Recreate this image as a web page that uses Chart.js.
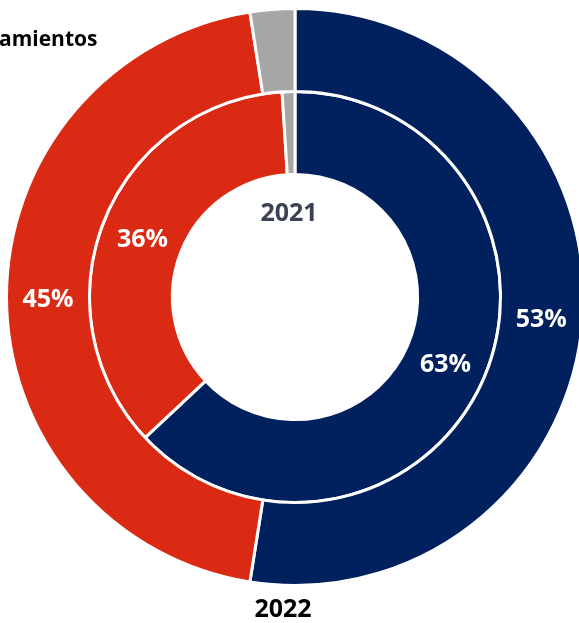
<!DOCTYPE html>
<html>
<head>
<meta charset="utf-8">
<script src="https://cdn.jsdelivr.net/npm/chart.js@4/dist/chart.umd.min.js"></script>
<style>
  html, body { margin: 0; padding: 0; background: #fff; overflow: hidden; }
  #wrap { position: absolute; left: 0; top: 0; width: 600px; height: 623px; }
</style>
</head>
<body>
<div id="wrap"><canvas id="chart" width="600" height="623"></canvas></div>
<script>
// Share of each group per year (percent)
const groups = ['Grupo A', 'Grupo B', 'Otros'];
const values2022 = [52.5, 45, 2.5];
const values2021 = [63, 36, 1];
const ringLabels = ['2022', '2021'];
const colors = ['#00215e', '#da2a14', '#a6a6a6'];

// Percent labels on the two big slices of each ring, plus the year captions
const textPlugin = {
    id: 'ringText',
    afterDraw(chart) {
        const ctx = chart.ctx;
        ctx.save();
        ctx.textAlign = 'center';
        ctx.textBaseline = 'middle';
        ctx.font = 'bold 25px "Open Sans", sans-serif';
        ctx.fillStyle = '#ffffff';
        chart.data.datasets.forEach(function(ds, di) {
            const meta = chart.getDatasetMeta(di);
            meta.data.forEach(function(arc, i) {
                if (ds.data[i] < 5) return;
                const p = arc.getCenterPoint();
                ctx.fillText(Math.round(ds.data[i]) + '%', p.x, p.y + 3);
            });
        });

        const inner = chart.getDatasetMeta(1).data[0];
        ctx.fillStyle = '#3a4254';
        ctx.fillText(ringLabels[1], inner.x - 6, 214);

        ctx.fillStyle = '#000000';
        ctx.fillText(ringLabels[0], inner.x - 12, 610);

        ctx.textAlign = 'left';
        ctx.font = 'bold 21px "Open Sans", sans-serif';
        ctx.fillText('amientos', -1, 40);
        ctx.restore();
    }
};

new Chart(document.getElementById('chart'), {
    type: 'doughnut',
    data: {
        labels: groups,
        datasets: [
            {
                label: ringLabels[0],
                data: values2022,
                backgroundColor: colors,
                borderColor: '#ffffff',
                borderWidth: 3
            },
            {
                label: ringLabels[1],
                data: values2021,
                backgroundColor: colors,
                borderColor: '#ffffff',
                borderWidth: 3
            }
        ]
    },
    options: {
        responsive: false,
        animation: false,
        cutout: '42.5%',
        layout: { padding: { left: 5, right: 15, top: 7, bottom: 36 } },
        plugins: {
            legend: { display: false },
            tooltip: { enabled: false }
        }
    },
    plugins: [textPlugin]
});
</script>
</body>
</html>
